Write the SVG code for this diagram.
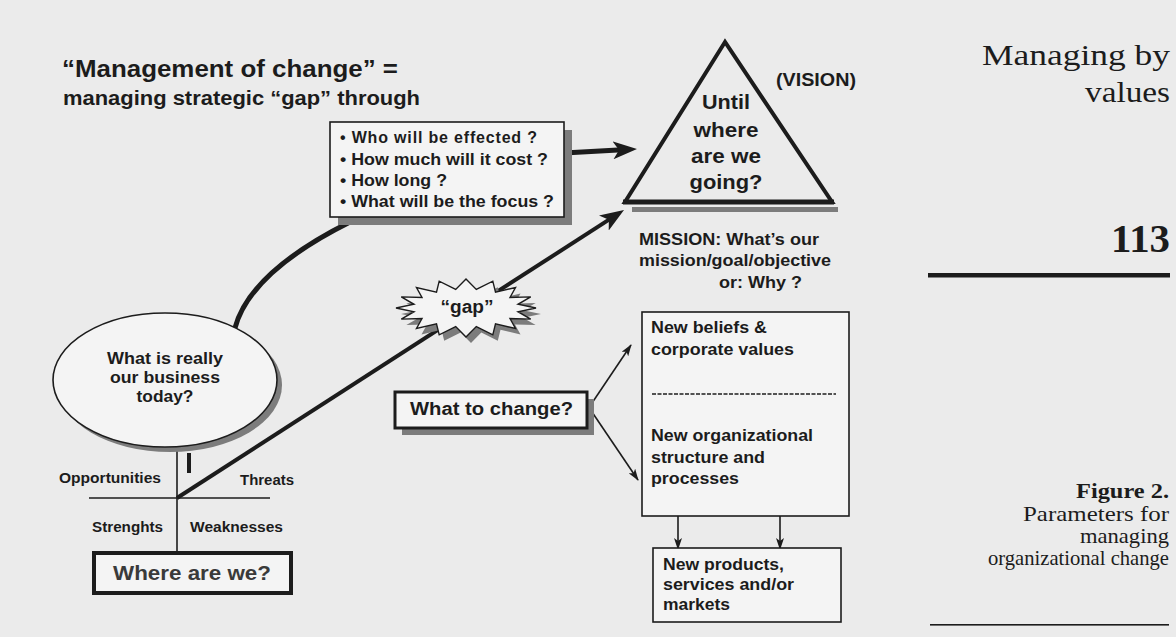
<svg xmlns="http://www.w3.org/2000/svg" width="1176" height="637" viewBox="0 0 1176 637">
<defs>
<style>
.b{font-family:"Liberation Sans",Arial,sans-serif;font-weight:bold;fill:#1c1c1c}
.s{font-family:"Liberation Serif","Times New Roman",serif;fill:#1c1c1c}
.sb{font-family:"Liberation Serif","Times New Roman",serif;font-weight:bold;fill:#1c1c1c}
.box{fill:#f4f4f4;stroke:#1c1c1c;stroke-width:1.6}
.shadow{fill:#7c7c7c}
.thick{fill:none;stroke:#1c1c1c;stroke-width:5}
.thin{fill:none;stroke:#1c1c1c;stroke-width:1.6}
</style>
<marker id="big" viewBox="0 0 24 18" refX="14" refY="9" markerWidth="24" markerHeight="18" markerUnits="userSpaceOnUse" orient="auto"><path d="M0,0 L24,9 L0,18 L6,9 z" fill="#1c1c1c"/></marker>
<marker id="small" viewBox="0 0 12 8" refX="11" refY="4" markerWidth="12" markerHeight="8" markerUnits="userSpaceOnUse" orient="auto"><path d="M0,0 L12,4 L0,8 L3,4 z" fill="#1c1c1c"/></marker>
</defs>
<rect width="1176" height="637" fill="#ebebeb"/>

<g id="connectors">
<path class="thick" d="M235,328 Q250,272 350,222"/>
<line class="thick" x1="564" y1="153" x2="627" y2="149.5" marker-end="url(#big)"/>
<line x1="177" y1="498" x2="615.6" y2="215.4" stroke="#1c1c1c" stroke-width="4" marker-end="url(#big)"/>
<line class="thin" x1="177" y1="447" x2="177" y2="552"/>
<line x1="189" y1="453" x2="189" y2="473" stroke="#1c1c1c" stroke-width="4"/>
<line class="thin" x1="89" y1="498" x2="270" y2="498"/>
<line class="thin" x1="592" y1="403" x2="631" y2="345" marker-end="url(#small)"/>
<line class="thin" x1="592" y1="412" x2="638" y2="480" marker-end="url(#small)"/>
<line class="thin" x1="678" y1="516" x2="678" y2="549" marker-end="url(#small)"/>
<line class="thin" x1="780" y1="516" x2="780" y2="549" marker-end="url(#small)"/>
</g>

<g id="title">
<text class="b" x="62" y="77" font-size="23" textLength="336" lengthAdjust="spacingAndGlyphs">“Management of change” =</text>
<text class="b" x="63" y="105" font-size="19.5" textLength="357" lengthAdjust="spacingAndGlyphs">managing strategic “gap” through</text>
</g>

<g id="questions">
<rect class="shadow" x="338" y="130" width="234" height="95"/>
<rect class="box" x="330" y="122" width="234" height="95"/>
<text class="b" font-size="16" lengthAdjust="spacingAndGlyphs">
<tspan x="340" y="143" textLength="197">• Who will be effected ?</tspan>
</text>
<text class="b" x="340" y="165" font-size="16" textLength="208" lengthAdjust="spacingAndGlyphs">• How much will it cost ?</text>
<text class="b" x="340" y="186" font-size="16" textLength="107" lengthAdjust="spacingAndGlyphs">• How long ?</text>
<text class="b" x="340" y="207" font-size="16" textLength="214" lengthAdjust="spacingAndGlyphs">• What will be the focus ?</text>
</g>

<g id="vision">
<rect class="shadow" x="632" y="207" width="206" height="5"/>
<polygon points="725,42 625,202 832,202" fill="none" stroke="#1c1c1c" stroke-width="4" stroke-linejoin="miter"/>
<line x1="623" y1="202" x2="834" y2="202" stroke="#1c1c1c" stroke-width="5"/>
<text class="b" x="726" y="109" font-size="20" text-anchor="middle" textLength="48" lengthAdjust="spacingAndGlyphs">Until</text>
<text class="b" x="726" y="137" font-size="20" text-anchor="middle" textLength="65" lengthAdjust="spacingAndGlyphs">where</text>
<text class="b" x="726" y="163" font-size="20" text-anchor="middle" textLength="70" lengthAdjust="spacingAndGlyphs">are we</text>
<text class="b" x="726" y="189" font-size="20" text-anchor="middle" textLength="73" lengthAdjust="spacingAndGlyphs">going?</text>
<text class="b" x="776" y="86" font-size="18" textLength="80" lengthAdjust="spacingAndGlyphs">(VISION)</text>
</g>

<g id="mission">
<text class="b" x="639" y="245" font-size="16" textLength="180" lengthAdjust="spacingAndGlyphs">MISSION: What’s our</text>
<text class="b" x="639" y="266" font-size="16" textLength="192" lengthAdjust="spacingAndGlyphs">mission/goal/objective</text>
<text class="b" x="719" y="288" font-size="16" textLength="83" lengthAdjust="spacingAndGlyphs">or: Why ?</text>
</g>

<g id="business">
<ellipse class="shadow" cx="170" cy="385" rx="112" ry="67"/>
<ellipse cx="165" cy="380" rx="112" ry="67" fill="#f4f4f4" stroke="#1c1c1c" stroke-width="1.6"/>
<text class="b" x="165" y="364" font-size="17" text-anchor="middle" textLength="116" lengthAdjust="spacingAndGlyphs">What is really</text>
<text class="b" x="165" y="383" font-size="17" text-anchor="middle" textLength="110" lengthAdjust="spacingAndGlyphs">our business</text>
<text class="b" x="165" y="402" font-size="17" text-anchor="middle" textLength="57" lengthAdjust="spacingAndGlyphs">today?</text>
</g>

<g id="gap">
<polygon class="shadow" transform="translate(5,6)" points="536,308 518,311.7 530.7,319.1 510,318.6 515.5,328.5 495.5,323.8 492.8,334.8 476.3,326.6 466,337 455.7,326.6 439.2,334.8 436.5,323.8 416.5,328.5 422,318.6 401.3,319.1 414,311.7 396,308 414,304.3 401.3,296.9 422,297.4 416.5,287.5 436.5,292.2 439.2,281.2 455.7,289.4 466,279 476.3,289.4 492.8,281.2 495.5,292.2 515.5,287.5 510,297.4 530.7,296.9 518,304.3"/>
<polygon fill="#f4f4f4" stroke="#1c1c1c" stroke-width="1.4" stroke-linejoin="miter" points="536,308 518,311.7 530.7,319.1 510,318.6 515.5,328.5 495.5,323.8 492.8,334.8 476.3,326.6 466,337 455.7,326.6 439.2,334.8 436.5,323.8 416.5,328.5 422,318.6 401.3,319.1 414,311.7 396,308 414,304.3 401.3,296.9 422,297.4 416.5,287.5 436.5,292.2 439.2,281.2 455.7,289.4 466,279 476.3,289.4 492.8,281.2 495.5,292.2 515.5,287.5 510,297.4 530.7,296.9 518,304.3"/>
<text class="b" x="467" y="313" font-size="18" text-anchor="middle" textLength="53" lengthAdjust="spacingAndGlyphs">“gap”</text>
</g>

<g id="what-to-change">
<rect class="shadow" x="402" y="399" width="192" height="36"/>
<rect x="395" y="392" width="192" height="36" fill="#f4f4f4" stroke="#1c1c1c" stroke-width="3"/>
<text class="b" x="410" y="415" font-size="18" textLength="163" lengthAdjust="spacingAndGlyphs">What to change?</text>
</g>

<g id="beliefs-structure">
<rect class="box" x="642" y="312" width="207" height="204"/>
<text class="b" x="651" y="333" font-size="16" textLength="116" lengthAdjust="spacingAndGlyphs">New beliefs &amp;</text>
<text class="b" x="651" y="355" font-size="16" textLength="143" lengthAdjust="spacingAndGlyphs">corporate values</text>
<line x1="652" y1="394" x2="836" y2="394" stroke="#1c1c1c" stroke-width="1.6" stroke-dasharray="4 1.5"/>
<text class="b" x="651" y="441" font-size="16" textLength="162" lengthAdjust="spacingAndGlyphs">New organizational</text>
<text class="b" x="651" y="463" font-size="16" textLength="114" lengthAdjust="spacingAndGlyphs">structure and</text>
<text class="b" x="651" y="484" font-size="16" textLength="88" lengthAdjust="spacingAndGlyphs">processes</text>
</g>

<g id="products">
<rect class="box" x="653" y="548" width="188" height="74"/>
<text class="b" x="663" y="570" font-size="16" textLength="121" lengthAdjust="spacingAndGlyphs">New products,</text>
<text class="b" x="663" y="590" font-size="16" textLength="131" lengthAdjust="spacingAndGlyphs">services and/or</text>
<text class="b" x="663" y="610" font-size="16" textLength="67" lengthAdjust="spacingAndGlyphs">markets</text>
</g>

<g id="swot">
<text class="b" x="59" y="483" font-size="14" textLength="102" lengthAdjust="spacingAndGlyphs">Opportunities</text>
<text class="b" x="240" y="485" font-size="14" textLength="54" lengthAdjust="spacingAndGlyphs">Threats</text>
<text class="b" x="92" y="532" font-size="14" textLength="71" lengthAdjust="spacingAndGlyphs">Strenghts</text>
<text class="b" x="190" y="532" font-size="14" textLength="93" lengthAdjust="spacingAndGlyphs">Weaknesses</text>
</g>

<g id="where">
<rect x="94" y="553" width="197" height="40" fill="#f4f4f4" stroke="#1c1c1c" stroke-width="4"/>
<text class="b" x="113" y="580" font-size="20" textLength="158" lengthAdjust="spacingAndGlyphs" style="fill:#3a3a3a">Where are we?</text>
</g>

<g id="page-margin">
<text class="s" x="1170" y="65" font-size="30" text-anchor="end" textLength="188" lengthAdjust="spacingAndGlyphs">Managing by</text>
<text class="s" x="1170" y="102" font-size="30" text-anchor="end" textLength="85" lengthAdjust="spacingAndGlyphs">values</text>
<text class="sb" x="1170" y="252" font-size="40" text-anchor="end" textLength="59" lengthAdjust="spacingAndGlyphs">113</text>
<rect x="928" y="273" width="242" height="4.5" fill="#1c1c1c"/>
<text class="sb" x="1169" y="498" font-size="22" text-anchor="end" textLength="93" lengthAdjust="spacingAndGlyphs">Figure 2.</text>
<text class="s" x="1169" y="521" font-size="21" text-anchor="end" textLength="146" lengthAdjust="spacingAndGlyphs">Parameters for</text>
<text class="s" x="1169" y="543" font-size="21" text-anchor="end" textLength="89" lengthAdjust="spacingAndGlyphs">managing</text>
<text class="s" x="1169" y="565" font-size="21" text-anchor="end" textLength="181" lengthAdjust="spacingAndGlyphs">organizational change</text>
<rect x="930" y="624" width="239" height="1.6" fill="#1c1c1c"/>
</g>
</svg>
